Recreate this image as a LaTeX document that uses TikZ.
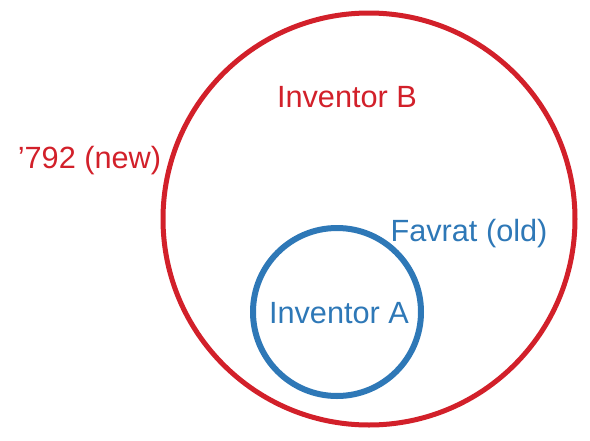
\documentclass[tikz,border=0pt]{standalone}
\usepackage{fontspec}
\setmainfont{Liberation Sans}
\definecolor{set-red}{HTML}{D2202A}
\definecolor{set-blue}{HTML}{2E78B7}

\begin{document}
\begin{tikzpicture}[x=1pt, y=-1pt,
    ring/.style={draw, circle, inner sep=0pt},
    tag/.style={anchor=base, inner sep=0pt, font=\fontsize{30.7}{36}\selectfont}]
    % Diagram: small set (old) inside large set (new).
    % Coordinates in px of a 590 x 440 canvas, y downwards
    %   red ring centre (369,219), radius 206
    %   blue ring centre (337,312), radius 84
    \useasboundingbox (0,0) rectangle (590,440);
    \node[ring, set-red, line width=5pt, minimum size=412pt] (newset) at (369,219) {};
    \node[ring, set-blue, line width=6pt, minimum size=168pt] (oldset) at (337,312) {};
    \node[tag, text=set-red] (invB) at (347,107) {Inventor B};
    \node[tag, text=set-red] (newlbl) at (89.5,168) {’792 (new)};
    \node[tag, text=set-blue] (oldlbl) at (469,241) {Favrat (old)};
    \node[tag, text=set-blue] (invA) at (339,323) {Inventor A};
\end{tikzpicture}
\end{document}
